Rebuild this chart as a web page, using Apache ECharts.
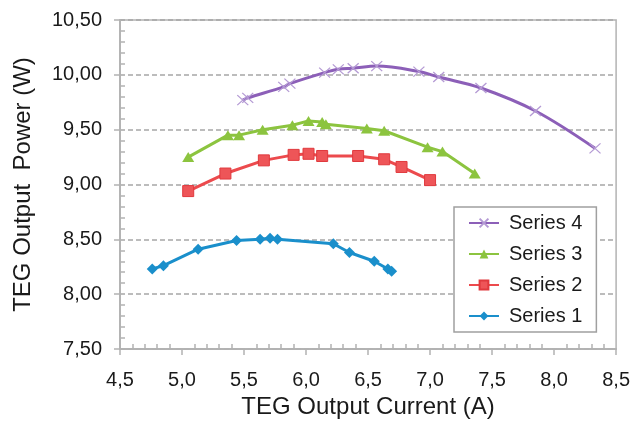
<!DOCTYPE html>
<html>
<head>
<meta charset="utf-8">
<script src="https://cdn.jsdelivr.net/npm/echarts@6/dist/echarts.min.js"></script>
<style>
html,body{margin:0;padding:0;background:#fff;}
#chart{width:633px;height:428px;}
</style>
</head>
<body>
<div id="chart"></div>
<script>
// ---- data ----
const xTitle = 'TEG Output Current (A)';
const yTitle = 'TEG Output  Power (W)';
const seriesNames = ['Series 1', 'Series 2', 'Series 3', 'Series 4'];

const s1X = [4.76, 4.85, 5.13, 5.44, 5.63, 5.71, 5.77, 6.22, 6.35, 6.55, 6.66, 6.69];
const s1Y = [8.23, 8.26, 8.41, 8.49, 8.50, 8.51, 8.50, 8.46, 8.38, 8.30, 8.23, 8.21];

const s2X = [5.05, 5.35, 5.66, 5.90, 6.02, 6.13, 6.42, 6.63, 6.77, 7.00];
const s2Y = [8.94, 9.10, 9.22, 9.27, 9.28, 9.26, 9.26, 9.23, 9.16, 9.04];

const s3X = [5.05, 5.37, 5.46, 5.65, 5.89, 6.02, 6.13, 6.16, 6.49, 6.63, 6.98, 7.10, 7.36];
const s3Y = [9.25, 9.45, 9.45, 9.50, 9.54, 9.58, 9.57, 9.55, 9.51, 9.49, 9.34, 9.30, 9.10];

const s4X = [5.49, 5.53, 5.82, 5.87, 6.15, 6.26, 6.38, 6.57, 6.91, 7.07, 7.41, 7.85, 8.33];
const s4Y = [9.77, 9.79, 9.89, 9.92, 10.02, 10.05, 10.06, 10.08, 10.03, 9.98, 9.88, 9.67, 9.33];

const xMin = 4.5, xMax = 8.5, xStep = 0.5;
const yMin = 7.5, yMax = 10.5, yStep = 0.5;

// ---- build ----
const zip = (xs, ys) => xs.map((x, i) => [x, ys[i]]);
const axisGrey = '#b3b3b3';
const font = 'Liberation Sans, Arial, sans-serif';
const textColor = '#1a1a1a';

const chart = echarts.init(document.getElementById('chart'), null, {renderer: 'canvas'});

const baseX = {
  type: 'value', min: xMin, max: xMax, interval: xStep, position: 'bottom',
  axisLine: {show: true, lineStyle: {color: axisGrey, width: 1.5}},
  splitLine: {show: false}
};
const baseY = {
  type: 'value', min: yMin, max: yMax, interval: yStep, position: 'left',
  axisLine: {show: true, lineStyle: {color: axisGrey, width: 1.5}}
};

const option = {
  backgroundColor: '#fff',
  animation: false,
  textStyle: {fontFamily: font},
  grid: {
    left: 120, right: 16, top: 20, bottom: 79,
    show: true, borderColor: axisGrey, borderWidth: 1.5, backgroundColor: 'transparent'
  },
  xAxis: [
    Object.assign({}, baseX, {
      name: xTitle, nameLocation: 'middle', nameGap: 46,
      nameTextStyle: {fontSize: 24, color: textColor, fontFamily: font},
      axisTick: {show: true, inside: false, length: 6, lineStyle: {color: axisGrey, width: 1.5}},
      minorTick: {show: false},
      axisLabel: {
        fontSize: 20, color: textColor, margin: 21, fontFamily: font,
        formatter: v => v.toFixed(1).replace('.', ',')
      }
    }),
    Object.assign({}, baseX, {
      axisTick: {show: false, inside: true},
      minorTick: {show: true, splitNumber: 5, length: 5, lineStyle: {color: axisGrey, width: 1.5}},
      axisLabel: {show: false}
    })
  ],
  yAxis: [
    Object.assign({}, baseY, {
      name: yTitle, nameLocation: 'middle', nameGap: 85,
      nameTextStyle: {fontSize: 24, color: textColor, fontFamily: font},
      axisTick: {show: true, inside: false, length: 6, lineStyle: {color: axisGrey, width: 1.5}},
      minorTick: {show: false},
      splitLine: {show: true, lineStyle: {color: '#a6a6a6', width: 1.5, type: [5, 3]}},
      axisLabel: {
        fontSize: 20, color: textColor, margin: 18, fontFamily: font,
        formatter: v => v.toFixed(2).replace('.', ',')
      }
    }),
    Object.assign({}, baseY, {
      axisTick: {show: false, inside: true},
      minorTick: {show: true, splitNumber: 5, length: 5, lineStyle: {color: axisGrey, width: 1.5}},
      axisLabel: {show: false},
      splitLine: {show: false}
    })
  ],
  legend: {
    orient: 'vertical', left: 454, top: 207,
    data: [seriesNames[3], seriesNames[2], seriesNames[1], seriesNames[0]],
    backgroundColor: '#fff', borderColor: '#a0a0a0', borderWidth: 1.5,
    padding: [6, 14, 6, 14], itemGap: 11, itemWidth: 30, itemHeight: 11,
    textStyle: {fontSize: 20, color: textColor, lineHeight: 20, fontFamily: font, padding: [0, 0, 0, 5]}
  },
  series: [
    {
      name: seriesNames[0], type: 'line', xAxisIndex: 0, yAxisIndex: 0,
      data: zip(s1X, s1Y), symbol: 'diamond', symbolSize: 11,
      lineStyle: {color: '#1a8fcb', width: 3}, itemStyle: {color: '#1a8fcb'}, z: 4
    },
    {
      name: seriesNames[1], type: 'line', xAxisIndex: 0, yAxisIndex: 0,
      data: zip(s2X, s2Y), symbol: 'rect', symbolSize: 11,
      lineStyle: {color: '#ec4a4d', width: 3}, itemStyle: {color: '#ee5558', borderColor: '#e0393d', borderWidth: 1}, z: 4
    },
    {
      name: seriesNames[2], type: 'line', xAxisIndex: 0, yAxisIndex: 0,
      data: zip(s3X, s3Y), symbol: 'triangle', symbolSize: [12, 10],
      lineStyle: {color: '#8cc43f', width: 3}, itemStyle: {color: '#8cc43f'}, z: 4
    },
    {
      name: seriesNames[3], type: 'line', xAxisIndex: 0, yAxisIndex: 0,
      data: zip(s4X, s4Y), smooth: 0.35,
      symbol: 'path://M0,0L10,10M10,0L0,10', symbolSize: [11, 10],
      lineStyle: {color: '#8c5fb8', width: 3},
      itemStyle: {color: '#8c5fb8', borderColor: '#b49ad4', borderWidth: 1.2}, z: 4
    }
  ]
};
chart.setOption(option);
</script>
</body>
</html>
